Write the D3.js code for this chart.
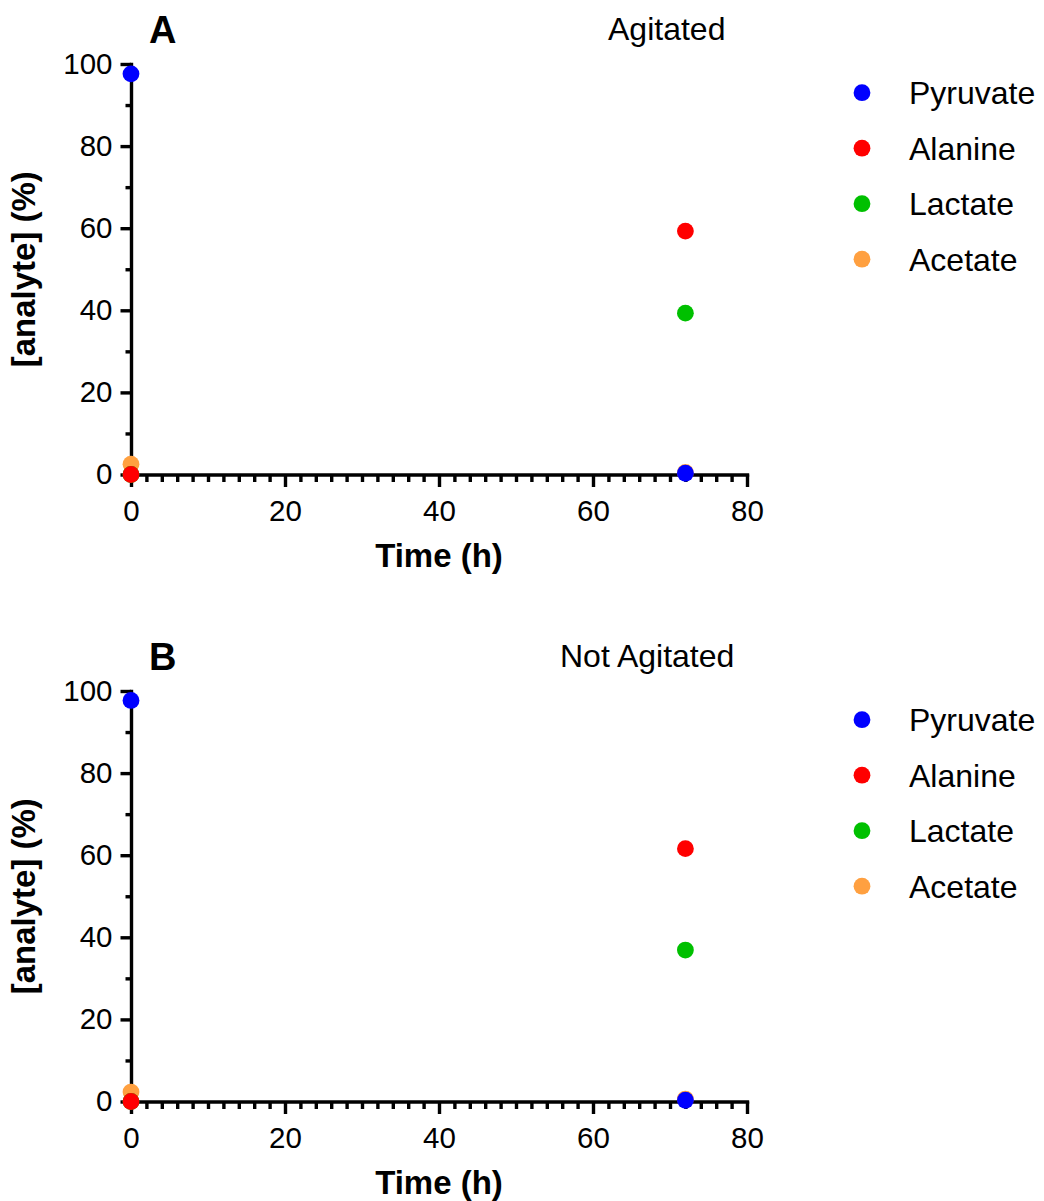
<!DOCTYPE html>
<html>
<head>
<meta charset="utf-8">
<script src="https://cdn.jsdelivr.net/npm/d3@7"></script>
<style>
  html, body { margin: 0; padding: 0; background: #fff; }
  svg { display: block; font-family: "Liberation Sans", Arial, sans-serif; }
</style>
</head>
<body>
<svg id="chart" width="1044" height="1201"></svg>
<script>
// Sampling times (hours)
const timeH = [0, 72];

// Analytes, in legend order
const analytes = ["Pyruvate", "Alanine", "Lactate", "Acetate"];
const analyteColors = ["#0000FF", "#FF0000", "#00C000", "#FFA040"];

// Agitated culture, % of each analyte at each time
const agitatedPyruvate = [97.6, 0.3];
const agitatedAlanine  = [0.0, 59.3];
const agitatedLactate  = [0.0, 39.3];
const agitatedAcetate  = [2.5, 0.5];

// Not agitated culture
const stillPyruvate = [97.7, 0.3];
const stillAlanine  = [0.0, 61.6];
const stillLactate  = [0.0, 36.9];
const stillAcetate  = [2.3, 0.6];

// Axis ticks
const xMajorTicks = [0, 20, 40, 60, 80];
const yMajorTicks = [0, 20, 40, 60, 80, 100];

const panels = [
  { letter: "A", title: "Agitated", titleX: 608, top: 0,
    series: [agitatedPyruvate, agitatedAlanine, agitatedLactate, agitatedAcetate] },
  { letter: "B", title: "Not Agitated", titleX: 560, top: 627,
    series: [stillPyruvate, stillAlanine, stillLactate, stillAcetate] }
];

const svg = d3.select("#chart");

const x = d3.scaleLinear().domain([0, 80]).range([131, 747]);
const xMinor = d3.range(0, 81, 2).filter(v => v % 20 !== 0);
const yMinor = d3.range(10, 100, 20);
const lw = 3.4;

panels.forEach(p => {
  const g = svg.append("g").attr("transform", `translate(0,${p.top})`);
  const y = d3.scaleLinear().domain([0, 100]).range([474.5, 64]);

  // minor ticks
  g.append("g")
    .attr("transform", `translate(0,${y(0)})`)
    .call(d3.axisBottom(x).tickValues(xMinor).tickSize(7.5).tickSizeOuter(0).tickFormat(""))
    .call(a => a.select(".domain").remove())
    .call(a => a.selectAll("line").attr("stroke", "#000").attr("stroke-width", lw));
  g.append("g")
    .attr("transform", `translate(${x(0)},0)`)
    .call(d3.axisLeft(y).tickValues(yMinor).tickSize(5.5).tickSizeOuter(0).tickFormat(""))
    .call(a => a.select(".domain").remove())
    .call(a => a.selectAll("line").attr("stroke", "#000").attr("stroke-width", lw));

  // major x axis
  const xa = g.append("g")
    .attr("transform", `translate(0,${y(0)})`)
    .call(d3.axisBottom(x).tickValues(xMajorTicks).tickSize(12.5).tickSizeOuter(0).tickPadding(13));
  // major y axis
  const ya = g.append("g")
    .attr("transform", `translate(${x(0)},0)`)
    .call(d3.axisLeft(y).tickValues(yMajorTicks).tickSize(10.5).tickSizeOuter(0).tickPadding(8));

  [xa, ya].forEach(a => {
    a.attr("font-family", null).attr("font-size", null);
    a.select(".domain").attr("stroke", "#000").attr("stroke-width", lw).attr("stroke-linecap", "square");
    a.selectAll(".tick line").attr("stroke", "#000").attr("stroke-width", lw);
    a.selectAll(".tick text").attr("fill", "#000").style("font-size", "29.5px");
  });

  // axis titles
  g.append("text")
    .attr("x", (x(0) + x(80)) / 2).attr("y", 567)
    .attr("text-anchor", "middle")
    .style("font-size", "33px").style("font-weight", "bold")
    .text("Time (h)");
  g.append("text")
    .attr("transform", `translate(35,${(y(0) + y(100)) / 2}) rotate(-90)`)
    .attr("text-anchor", "middle")
    .style("font-size", "33px").style("font-weight", "bold")
    .text("[analyte] (%)");

  // panel letter and condition title
  g.append("text")
    .attr("x", 149).attr("y", 43)
    .style("font-size", "38px").style("font-weight", "bold")
    .text(p.letter);
  g.append("text")
    .attr("x", p.titleX).attr("y", 40)
    .style("font-size", "32px")
    .text(p.title);

  // points: later analytes drawn first so Pyruvate sits on top
  const pts = [];
  for (let s = analytes.length - 1; s >= 0; s--) {
    timeH.forEach((t, i) => pts.push({ t, v: p.series[s][i], c: analyteColors[s] }));
  }
  g.append("g").selectAll("circle")
    .data(pts).join("circle")
    .attr("cx", d => x(d.t))
    .attr("cy", d => y(d.v))
    .attr("r", 8.4)
    .attr("fill", d => d.c);

  // legend
  const lg = g.append("g");
  analytes.forEach((name, i) => {
    const ly = 92.7 + i * 55.5;
    lg.append("circle").attr("cx", 862).attr("cy", ly).attr("r", 8.4).attr("fill", analyteColors[i]);
    lg.append("text").attr("x", 909).attr("y", ly + 11.5)
      .style("font-size", "32px").text(name);
  });
});
</script>
</body>
</html>
